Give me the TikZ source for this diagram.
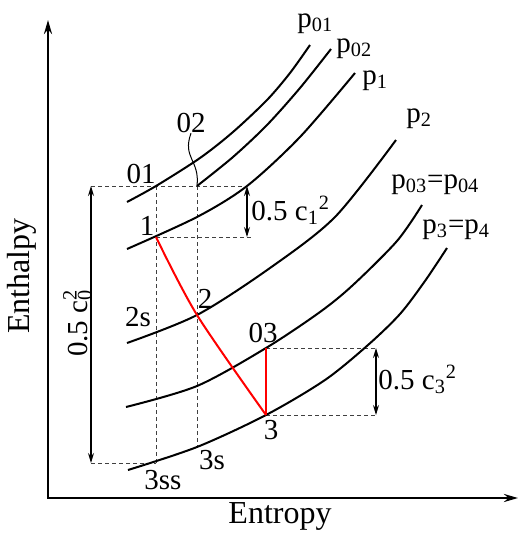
\documentclass[tikz,border=0pt]{standalone}
\usepackage{fontspec}
\setmainfont{Liberation Serif}
\usetikzlibrary{arrows.meta,positioning,calc}

\begin{document}
\begin{tikzpicture}[
    x=0.5pt, y=-0.5pt,
    font=\fontsize{14.5}{17}\selectfont,
    isobar/.style={line width=1pt},
    process/.style={line width=1pt, red},
    guide/.style={dash pattern=on 2pt off 1.5pt, line width=0.5pt, black!75},
    leader/.style={line width=0.5pt},
    dim/.style={{Stealth[length=5pt,width=3pt]}-{Stealth[length=5pt,width=3pt]}, line width=0.6pt},
    axis/.style={{Stealth[length=7pt,width=4pt]}-{Stealth[length=7pt,width=4pt]}, line width=1.2pt},
    lbl/.style={inner sep=0pt},
    axlabel/.style={inner sep=0pt, font=\fontsize{16}{19}\selectfont}
  ]
    \useasboundingbox (0,0) rectangle (520,536);

    \coordinate (origin) at (48,498);
    \coordinate (ytop) at (48,20);
    \coordinate (xend) at (518,498);

    \coordinate (s01) at (156,186);
    \coordinate (s02) at (197,186);
    \coordinate (s1) at (156,237);
    \coordinate (s2) at (197,315);
    \coordinate (s2s) at (156,333);
    \coordinate (s03) at (266,348);
    \coordinate (s3) at (266,415);
    \coordinate (s3s) at (197,447);
    \coordinate (s3ss) at (156,463);

    \coordinate (c0a) at (91,186);
    \coordinate (c0b) at (91,463);
    \coordinate (c1a) at (247,186);
    \coordinate (c1b) at (247,237);
    \coordinate (c1e) at (252,237);
    \coordinate (c3a) at (376,348);
    \coordinate (c3b) at (376,415);

    \draw[axis] (ytop) -- (origin) -- (xend);

    \draw[guide] (c0a) -- (c1a);
    \draw[guide] (s01) -- (s3ss);
    \draw[guide] (s02) -- (s3s);
    \draw[guide] (s1) -- (c1e);
    \draw[guide] (c0b) -- (s3ss);
    \draw[guide] (s03) -- (c3a);
    \draw[guide] (s3) -- (c3b);

    \draw[isobar] plot[smooth] coordinates {(127,202) (s01) (200,158) (233,132) (267,100) (290,73) (310,45)};
    \draw[isobar] plot[smooth] coordinates {(s02) (233,157) (267,125) (300,88) (331,49)};
    \draw[isobar] plot[smooth] coordinates {(127,249) (197,217) (c1a) (300,137) (355,73)};
    \draw[isobar] plot[smooth] coordinates {(127,343) (s2) (270,268) (335,217) (396,140)};
    \draw[isobar] plot[smooth] coordinates {(126,407) (197,386) (s03) (320,312) (353,285) (397,241) (422,205)};
    \draw[isobar] plot[smooth] coordinates {(128,470) (s3s) (s3) (325,380) (368,345) (400,314) (425,281) (447,248)};

    \draw[process] plot[smooth] coordinates {(s1) (s2) (s3)};
    \draw[process] (s3) -- (s03);

    \draw[dim] (c0a) -- (c0b);
    \draw[dim] (c1a) -- (c1b);
    \draw[dim] (c3a) -- (c3b);

    \node[lbl] (l01) at (141,174) {01};
    \node[lbl] (l02) at (191,123) {02};
    \node[lbl] (l1) at (147,226) {1};
    \node[lbl] (l2) at (205,299) {2};
    \node[lbl] (l2s) at (138,317) {2s};
    \node[lbl] (l03) at (263,333) {03};
    \node[lbl] (l3) at (271,430) {3};
    \node[lbl] (l3s) at (212,460) {3s};
    \node[lbl] (l3ss) at (163,480) {3ss};
    \draw[leader] (l02.south) .. controls (182,158) and (200,160) .. (s02);

    \node[lbl, anchor=base west] (lp01) at (297,27) {p\textsubscript{01}};
    \node[lbl, anchor=base west] (lp02) at (336,52) {p\textsubscript{02}};
    \node[lbl, anchor=base west] (lp1) at (362,84) {p\textsubscript{1}};
    \node[lbl, anchor=base west] (lp2) at (406,122) {p\textsubscript{2}};
    \node[lbl, anchor=base west] (lp03) at (391,188) {p\textsubscript{03}=p\textsubscript{04}};
    \node[lbl, anchor=base west] (lp3) at (422,233) {p\textsubscript{3}=p\textsubscript{4}};

    \node[lbl, anchor=base, rotate=90] (lc0) at (87,323) {0.5 c\rlap{\textsubscript{0}}\textsuperscript{2}};
    \node[lbl, anchor=base west] (lc1) at (251,220) {0.5 c\textsubscript{1}\textsuperscript{2}};
    \node[lbl, anchor=base west] (lc3) at (378,389) {0.5 c\textsubscript{3}\textsuperscript{2}};

    \node[axlabel, anchor=base] (xlab) at (280,523) {Entropy};
    \node[axlabel, anchor=base, rotate=90] (ylab) at (30,276) {Enthalpy};
\end{tikzpicture}
\end{document}
